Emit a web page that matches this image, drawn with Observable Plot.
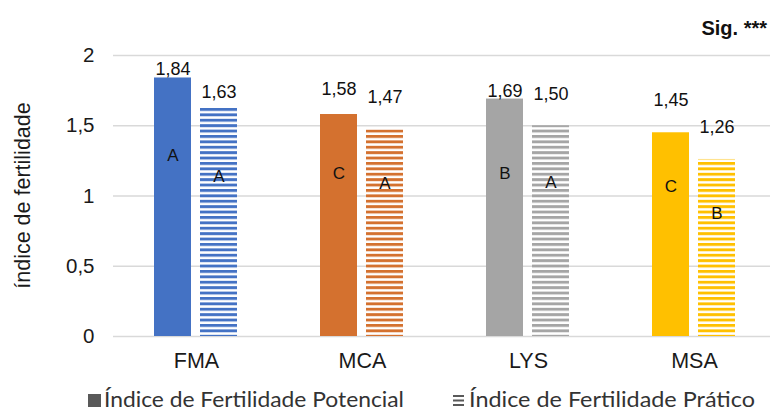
<!DOCTYPE html>
<html>
<head>
<meta charset="utf-8">
<script src="https://cdn.jsdelivr.net/npm/d3@7"></script>
<script src="https://cdn.jsdelivr.net/npm/@observablehq/plot@0.6"></script>
<style>
  html, body { margin: 0; padding: 0; background: #fff; }
  #wrap { position: relative; width: 770px; height: 411px; overflow: hidden; font-family: "Liberation Sans", Arial, sans-serif; }
  #sig { position: absolute; right: 3px; top: 17px; font: bold 20px "Liberation Sans", Arial, sans-serif; color: #111; }
  svg { display: block; }
</style>
</head>
<body>
<div id="wrap"><div id="sig">Sig. ***</div></div>
<script>
// ---- data ----
const categories = ["FMA", "MCA", "LYS", "MSA"];
const seriesNames = ["Índice de Fertilidade Potencial", "Índice de Fertilidade Prático"];
const potencial = [1.84, 1.58, 1.69, 1.45];
const pratico = [1.63, 1.47, 1.50, 1.26];
const letrasPotencial = ["A", "C", "B", "C"];
const letrasPratico = ["A", "A", "A", "B"];
const colors = ["#4472C4", "#D4712F", "#A5A5A5", "#FFC000"];
const yTicks = [0, 0.5, 1, 1.5, 2];
const yLabel = "índice de fertilidade";
// annotation anchor heights (in data units)
const valueLabelYPot = [1.90, 1.758, 1.744, 1.68];
const valueLabelYPra = [1.737, 1.70, 1.722, 1.488];
const letterYPot = [1.288, 1.16, 1.16, 1.068];
const letterYPra = [1.139, 1.089, 1.096, 0.875];

const rows = [];
categories.forEach((c, i) => {
  rows.push({cat: c, s: 0, i, value: potencial[i], labelY: valueLabelYPot[i], letter: letrasPotencial[i], letterY: letterYPot[i]});
  rows.push({cat: c, s: 1, i, value: pratico[i], labelY: valueLabelYPra[i], letter: letrasPratico[i], letterY: letterYPra[i]});
});
const fmt = v => v.toFixed(2).replace(".", ",");

const chart = Plot.plot({
  width: 770,
  height: 380,
  marginTop: 55,
  marginBottom: 44,
  marginLeft: 112,
  marginRight: 0,
  style: {fontFamily: "Liberation Sans, Arial, sans-serif", fontSize: "20px", color: "#1a1a1a", background: "transparent"},
  fx: {domain: categories, range: [112, 778], padding: 0, axis: null},
  x: {domain: [0, 1], paddingInner: 0.19, paddingOuter: 0.885, axis: null},
  y: {domain: [0, 2], axis: null},
  marks: [
    Plot.ruleY(yTicks, {stroke: "#d9d9d9", strokeWidth: 1.3}),
    Plot.axisY(yTicks, {tickFormat: d => String(d).replace(".", ","), tickSize: 0, tickPadding: 19, label: null, fontSize: 20.5}),
    Plot.axisFx({tickSize: 0, tickPadding: 16, label: null, fontSize: 21.5, anchor: "bottom"}),
    Plot.barY(rows, {fx: "cat", x: "s", y: "value", fill: d => d.s === 0 ? colors[d.i] : `url(#stripe${d.i})`}),
    Plot.text(rows, {fx: "cat", x: "s", y: "labelY", text: d => fmt(d.value), fontSize: 18, fill: "#111", lineAnchor: "middle"}),
    Plot.text(rows, {fx: "cat", x: "s", y: "letterY", text: "letter", fontSize: 17, fill: "#111", lineAnchor: "middle"})
  ]
});

// stripe patterns
const svg = d3.select(chart.tagName.toLowerCase() === "svg" ? chart : chart.querySelector("svg"));
const defs = svg.insert("defs", ":first-child");
colors.forEach((c, i) => {
  const p = defs.append("pattern").attr("id", `stripe${i}`).attr("patternUnits", "userSpaceOnUse")
    .attr("width", 10).attr("height", 5.4);
  p.append("rect").attr("x", 0).attr("y", 0).attr("width", 10).attr("height", 2.9).attr("fill", c);
});
// y axis title
svg.append("text")
  .attr("transform", `translate(30,${(55 + 336) / 2}) rotate(-90)`)
  .attr("text-anchor", "middle")
  .attr("font-size", 21.5)
  .attr("fill", "#1a1a1a")
  .text(yLabel);

document.getElementById("wrap").appendChild(chart);

// legend
const leg = d3.select("#wrap").append("svg").attr("width", 770).attr("height", 31);
leg.append("rect").attr("x", 88).attr("y", 14).attr("width", 13).attr("height", 13).attr("fill", "#595959");
leg.append("text").attr("x", 104).attr("y", 27).attr("font-family", "Lato, 'Open Sans', sans-serif").attr("font-size", 21)
  .attr("fill", "#333").attr("textLength", 300).attr("lengthAdjust", "spacingAndGlyphs").text(seriesNames[0]);
[15, 19.5, 24].forEach(y => leg.append("rect").attr("x", 453).attr("y", y).attr("width", 11).attr("height", 2).attr("fill", "#595959"));
leg.append("text").attr("x", 469).attr("y", 27).attr("font-family", "Lato, 'Open Sans', sans-serif").attr("font-size", 21)
  .attr("fill", "#333").attr("textLength", 286).attr("lengthAdjust", "spacingAndGlyphs").text(seriesNames[1]);
</script>
</body>
</html>
